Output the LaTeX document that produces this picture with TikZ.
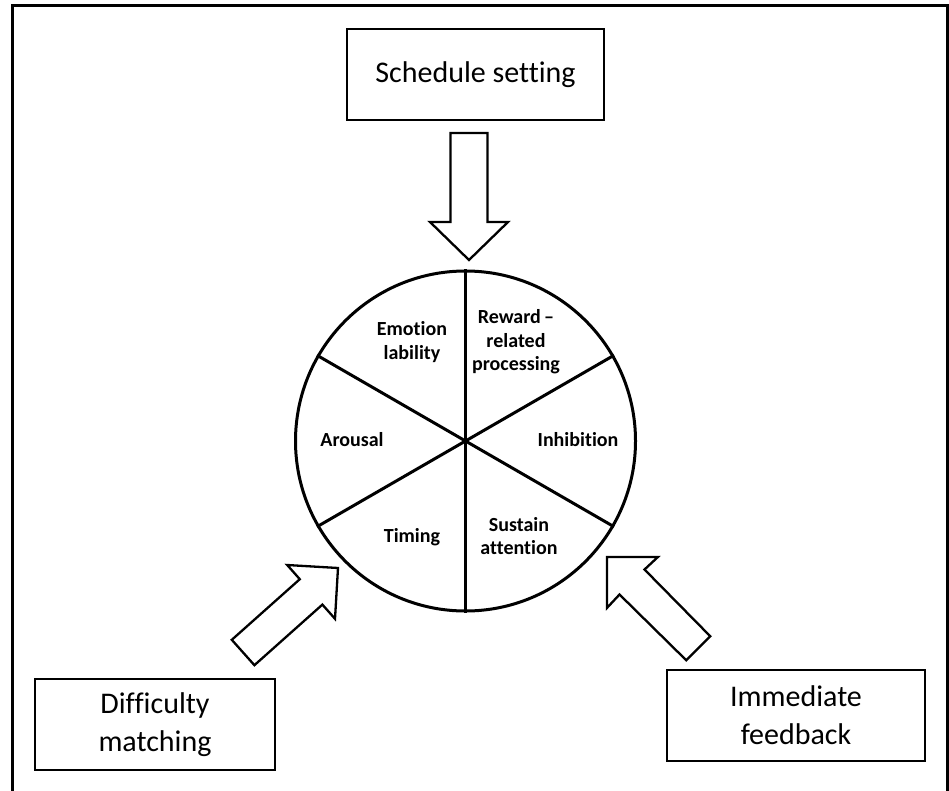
\documentclass[tikz,border=0pt]{standalone}
\usepackage{fontspec}
\setmainfont{Carlito}[RawFeature=-liga]
\begin{document}
\begin{tikzpicture}[x=1pt,y=-1pt,
  boxlabel/.style={draw=black, line width=2.6pt, minimum width=#1, align=center,
     font=\fontsize{30}{38}\selectfont, inner sep=0pt},
  slice/.style={align=center, font=\bfseries\fontsize{20}{23.5}\selectfont, inner sep=0pt},
  blockarrow/.style={draw=black, fill=white, line width=2.3pt, line join=miter},
  spoke/.style={line width=3pt}]
\useasboundingbox (0,0) rectangle (949,791);
% frame (open at the bottom)
\draw[line width=3pt] (12,791) -- (12,6) -- (947,6) -- (947,791);

% boxes
\node[boxlabel=257pt, minimum height=91pt] (sched) at (475.5,74.5) {Schedule setting};
\node[boxlabel=240pt, minimum height=91pt] (diff) at (155,724.5) {Difficulty\\matching};
\node[boxlabel=258pt, minimum height=91pt] (immed) at (796,715.5) {Immediate\\feedback};

% wheel
\node[circle, draw=black, line width=3pt, minimum size=340pt, inner sep=0pt] (wheel) at (465.5,441) {};
\foreach \a in {90,30,-30} {
  \draw[spoke] (wheel.\a) -- (wheel.center) -- (wheel.\a+180);
}
\draw[spoke] (wheel.90) -- (wheel.270);

% slice labels
\node[slice] (emo) at (412,342) {Emotion\\lability};
\node[slice] (rew) at (516,342) {Reward\,–\\related\\processing};
\node[slice] (aro) at (352,440) {Arousal};
\node[slice] (inh) at (578,440) {Inhibition};
\node[slice] (tim) at (412,537) {Timing};
\node[slice] (sus) at (519,536) {Sustain\\attention};

% block arrows (tips named)
\coordinate (tipA) at (469,260);
\coordinate (tipB) at (338,568);
\coordinate (tipC) at (607,557);
\draw[blockarrow] (tipA) -- ++(39,-38) -- ++(-20.5,0) -- ++(0,-89) -- ++(-37,0)
   -- ++(0,89) -- ++(-20.5,0) -- cycle;
\draw[blockarrow] (tipB) -- (335,618.8) -- (322.4,604.6) -- (254.4,665.2)
   -- (231.8,639.8) -- (299.8,579.2) -- (287.2,565) -- cycle;
\draw[blockarrow] (tipC) -- (657.9,557) -- (644.5,569.5) -- (710.2,636.2)
   -- (686.2,660.2) -- (619.5,594.5) -- (607,607.9) -- cycle;
\end{tikzpicture}
\end{document}
